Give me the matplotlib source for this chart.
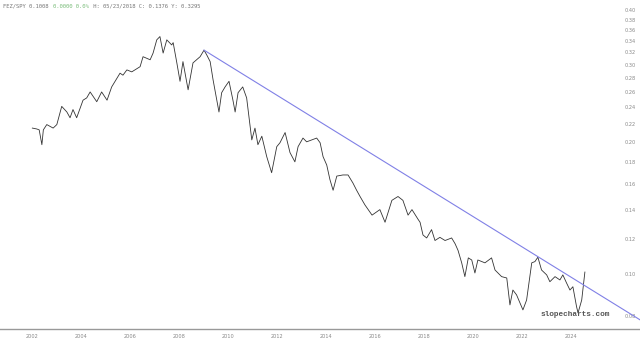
import numpy as np
import matplotlib
matplotlib.use("Agg")
import matplotlib.pyplot as plt
from matplotlib.ticker import NullLocator

# FEZ/SPY ratio (fractional year, ratio)
years = [
    2002.01, 2002.19, 2002.29, 2002.40, 2002.46, 2002.60, 2002.73, 2002.86, 2003.01,
    2003.21, 2003.42, 2003.55, 2003.67, 2003.82, 2004.08, 2004.23, 2004.37, 2004.64,
    2004.84, 2005.06, 2005.25, 2005.59, 2005.71, 2005.87, 2006.07, 2006.41, 2006.53,
    2006.82, 2006.94, 2007.09, 2007.22, 2007.35, 2007.50, 2007.70, 2007.76, 2007.91,
    2008.04, 2008.16, 2008.37, 2008.57, 2008.86, 2009.02, 2009.13, 2009.27, 2009.39,
    2009.63, 2009.74, 2009.88, 2010.04, 2010.20, 2010.29, 2010.41, 2010.60, 2010.76,
    2010.97, 2011.10, 2011.22, 2011.38, 2011.58, 2011.78, 2011.99, 2012.12, 2012.33,
    2012.53, 2012.73, 2012.86, 2013.06, 2013.21, 2013.42, 2013.62, 2013.76, 2013.88,
    2014.03, 2014.16, 2014.29, 2014.44, 2014.69, 2014.90, 2015.10, 2015.25, 2015.39,
    2015.59, 2015.88, 2016.20, 2016.41, 2016.69, 2016.94, 2017.14, 2017.35, 2017.51,
    2017.76, 2017.84, 2017.96, 2018.11, 2018.31, 2018.45, 2018.65, 2018.86, 2019.13,
    2019.27, 2019.39, 2019.54, 2019.67, 2019.81, 2019.95, 2020.08, 2020.20, 2020.49,
    2020.76, 2020.90, 2021.17, 2021.38, 2021.51, 2021.63, 2021.78, 2021.92, 2022.04,
    2022.19, 2022.40, 2022.53, 2022.65, 2022.80, 2023.01, 2023.14, 2023.35, 2023.55,
    2023.67, 2023.82, 2023.96, 2024.08, 2024.23, 2024.29, 2024.44, 2024.57,
]
ratio = [
    0.215, 0.214, 0.213, 0.197, 0.213, 0.219, 0.217, 0.215, 0.219,
    0.241, 0.234, 0.227, 0.237, 0.227, 0.249, 0.252, 0.260, 0.247,
    0.260, 0.249, 0.267, 0.287, 0.284, 0.292, 0.289, 0.297, 0.313,
    0.308, 0.319, 0.342, 0.348, 0.319, 0.342, 0.333, 0.337, 0.303,
    0.275, 0.305, 0.263, 0.303, 0.313, 0.324, 0.316, 0.305, 0.277,
    0.234, 0.259, 0.267, 0.275, 0.249, 0.234, 0.259, 0.267, 0.252,
    0.202, 0.215, 0.197, 0.206, 0.185, 0.170, 0.195, 0.199, 0.210,
    0.189, 0.180, 0.195, 0.204, 0.200, 0.202, 0.204, 0.199, 0.185,
    0.177, 0.164, 0.155, 0.167, 0.168, 0.168, 0.161, 0.155, 0.150,
    0.1435, 0.136, 0.140, 0.131, 0.147, 0.150, 0.147, 0.136, 0.140,
    0.133, 0.131, 0.1225, 0.1206, 0.126, 0.119, 0.121, 0.119, 0.1206,
    0.117, 0.113, 0.1058, 0.0984, 0.1086, 0.1074, 0.1003, 0.1074, 0.1058,
    0.1086, 0.1019, 0.0984, 0.0977, 0.0848, 0.0917, 0.0894, 0.0857, 0.0826,
    0.0870, 0.1058, 0.1065, 0.109, 0.1019, 0.0993, 0.0958, 0.0984, 0.0967,
    0.0993, 0.0952, 0.0917, 0.0933, 0.0840, 0.0813, 0.0870, 0.1008,
]

# trendline endpoints (year, ratio)
trend_years = [2009.02, 2026.82]
trend_vals = [0.324, 0.0784]

ytick_vals = [0.08, 0.10, 0.12, 0.14, 0.16, 0.18, 0.20, 0.22, 0.24, 0.26,
              0.28, 0.30, 0.32, 0.34, 0.36, 0.38, 0.40]
ytick_labels = ["%.2f" % v for v in ytick_vals]
xtick_years = [2002, 2004, 2006, 2008, 2010, 2012, 2014, 2016, 2018, 2020, 2022, 2024]

header_main = "FEZ/SPY 0.1008 "
header_chg = "0.0000 0.0%"
header_rest = " H: 05/23/2018 C: 0.1376 Y: 0.3295"

fig = plt.figure(figsize=(6.4, 3.43), dpi=100)
ax = fig.add_axes([0, 14 / 343, 1, 329 / 343])

ax.plot(years, ratio, color="#333333", lw=0.6)
ax.plot(trend_years, trend_vals, color="#8080e6", lw=0.8)

ax.set_yscale("log")
ax.set_ylim(0.0747, 0.4218)
ax.set_xlim(2000.69, 2026.82)
ax.set_yticks(ytick_vals, ytick_labels)
ax.yaxis.set_minor_locator(NullLocator())
ax.set_xticks(xtick_years, [str(y) for y in xtick_years])
ax.xaxis.set_minor_locator(NullLocator())

ax.yaxis.tick_right()
ax.tick_params(axis="y", length=0, pad=-11, labelsize=3.6, labelcolor="#888888")
ax.tick_params(axis="x", length=0, pad=3.5, labelsize=3.6, labelcolor="#888888")
for s in ["top", "left", "right"]:
    ax.spines[s].set_visible(False)
ax.spines["bottom"].set_color("#999999")
ax.spines["bottom"].set_linewidth(1.0)

# watermark
ax.text(0.898, 0.045, "slopecharts.com", transform=ax.transAxes, ha="center",
        va="center", fontsize=5.6, fontweight="bold", family="Liberation Mono",
        color="#555555")

# header line, monospace pieces
fs = 4.0
cw = 0.6 * fs * 100 / 72 / 640
x0 = 3 / 640
fig.text(x0, 1 - 6 / 343, header_main, fontsize=fs, family="DejaVu Sans Mono",
         color="#777777", va="center")
fig.text(x0 + cw * len(header_main), 1 - 6 / 343, header_chg, fontsize=fs,
         family="DejaVu Sans Mono", color="#77bb77", va="center")
fig.text(x0 + cw * (len(header_main) + len(header_chg)), 1 - 6 / 343, header_rest,
         fontsize=fs, family="DejaVu Sans Mono", color="#777777", va="center")

fig.savefig("out.png", dpi=100)
